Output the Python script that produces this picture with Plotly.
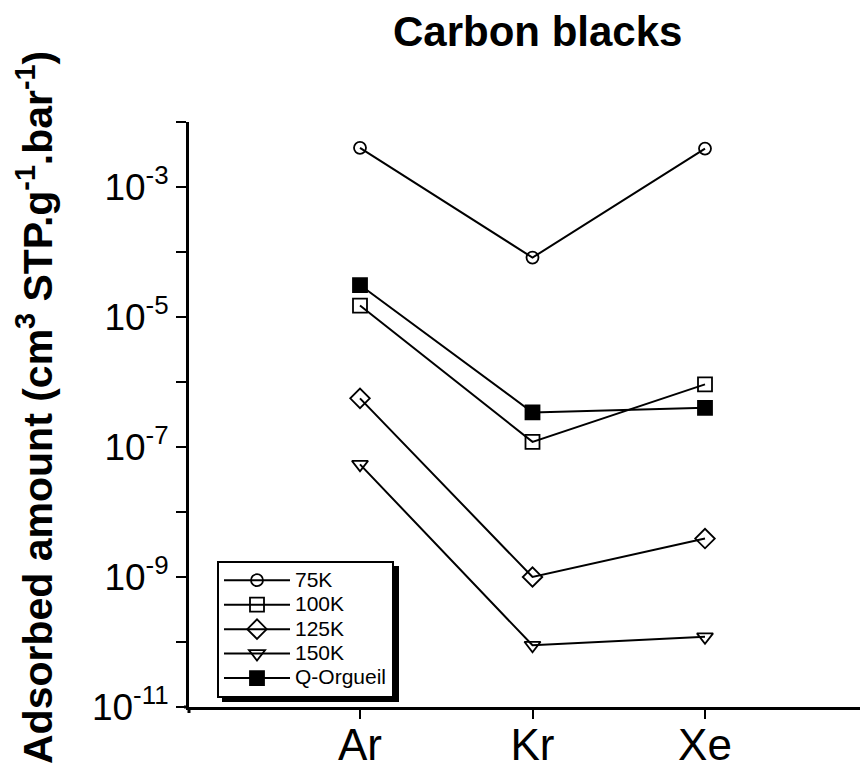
import plotly.graph_objects as go

gases = ["Ar", "Kr", "Xe"]
series_names = ["75K", "100K", "125K", "150K", "Q-Orgueil"]
v_75K = [4.0e-3, 8.2e-5, 3.9e-3]
v_100K = [1.5e-5, 1.2e-7, 9.2e-7]
v_125K = [5.6e-7, 1.0e-9, 3.9e-9]
v_150K = [5.4e-8, 8.9e-11, 1.2e-10]
v_qorg = [3.1e-5, 3.4e-7, 4.0e-7]

series_values = [v_75K, v_100K, v_125K, v_150K, v_qorg]
symbols = ["circle-open", "square-open", "diamond-open", "triangle-down-open", "square"]
sizes = [12, 14, 15, 14, 14]

tick_vals = [1e-11, 1e-10, 1e-9, 1e-8, 1e-7, 1e-6, 1e-5, 1e-4, 1e-3, 1e-2]
tick_text = ["10<sup>-11</sup>", "", "10<sup>-9</sup>", "", "10<sup>-7</sup>", "",
             "10<sup>-5</sup>", "", "10<sup>-3</sup>", ""]

FONT = "Liberation Sans, Arial, Helvetica, sans-serif"

# the page adds an 8 px body margin; work in page pixels and subtract it
OFF = 8
W, H = 868 - OFF, 768 - OFF
L = 189 - OFF
AX = 707 - OFF
TOP = 122 - OFF
B = H - AX
pw = W - L
ph = AX - TOP
spacing = 172.5
x0 = -(360 - 189) / spacing
x1 = x0 + pw / spacing


def px(x):
    return (x - OFF - L) / pw


def py(y):
    return (AX - (y - OFF)) / ph


fig = go.Figure()
xs = list(range(len(gases)))
for name, vals, sym, sz in zip(series_names, series_values, symbols, sizes):
    fig.add_trace(go.Scatter(
        x=xs, y=vals, mode="lines+markers",
        name='<span style="font-size:21px">%s</span>' % name,
        line=dict(color="black", width=2),
        marker=dict(symbol=sym, size=sz, color="black",
                    line=dict(color="black", width=1.8)),
    ))

fig.update_layout(
    width=W, height=H,
    margin=dict(l=L, r=0, t=TOP, b=B, pad=0, autoexpand=False),
    paper_bgcolor="white", plot_bgcolor="white",
    font=dict(family=FONT, color="black"),
    showlegend=True,
    legend=dict(
        x=px(217), y=py(561), xanchor="left", yanchor="top",
        bgcolor="white", bordercolor="black", borderwidth=2,
        font=dict(size=16.5, family=FONT, color="black"),
        itemwidth=66, tracegroupgap=0,
    ),
    xaxis=dict(
        range=[x0, x1], tickmode="array", tickvals=xs, ticktext=gases,
        showline=True, linecolor="black", linewidth=3, automargin=False,
        ticks="outside", ticklen=9, tickwidth=2, tickcolor="black",
        showgrid=False, zeroline=False, ticklabelstandoff=-12,
        tickfont=dict(size=44, family=FONT, color="black"),
    ),
    yaxis=dict(
        type="log", range=[-11, -2], tickmode="array",
        tickvals=tick_vals, ticktext=tick_text, automargin=False,
        showline=True, linecolor="black", linewidth=3,
        ticks="outside", ticklen=10, tickwidth=2, tickcolor="black",
        showgrid=False, zeroline=False,
        tickfont=dict(size=37, family=FONT, color="black"),
    ),
    annotations=[
        dict(text="<b>Carbon blacks</b>", xref="paper", yref="paper",
             x=px(537), y=py(31), xanchor="center", yanchor="middle",
             showarrow=False, font=dict(size=42, family=FONT, color="black")),
        dict(text="<b>Adsorbed amount (cm<sup>3</sup> STP.g<sup>-1</sup>.bar<sup>-1</sup>)</b>",
             xref="paper", yref="paper", x=px(35), y=py(408),
             xanchor="center", yanchor="middle", textangle=-90, showarrow=False,
             font=dict(size=41, family=FONT, color="black")),
    ],
    shapes=[
        dict(type="rect", xref="paper", yref="paper", layer="below",
             x0=px(222), x1=px(399), y0=py(702), y1=py(566),
             fillcolor="black", line=dict(width=0)),
        dict(type="line", xref="paper", yref="paper", x0=0, x1=0, y0=0, y1=-6 / ph,
             line=dict(color="black", width=3)),
        dict(type="line", xref="paper", yref="paper", x0=-5 / pw, x1=0, y0=0, y1=0,
             line=dict(color="black", width=3)),
    ],
)

fig.write_html("out.html")
